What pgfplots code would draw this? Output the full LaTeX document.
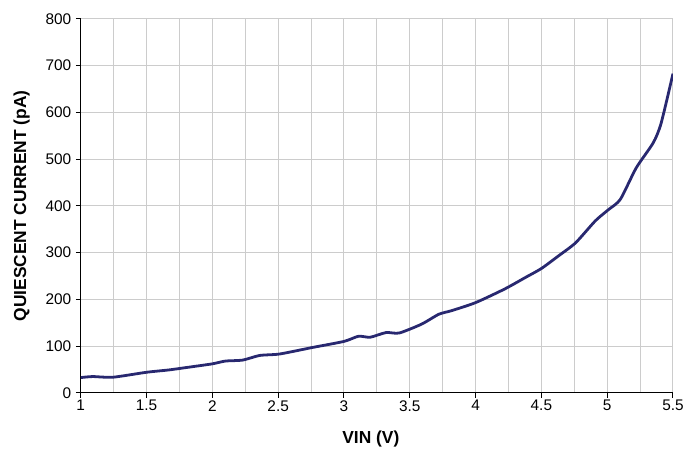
\documentclass[border=0pt]{standalone}
\usepackage{pgfplots}
\pgfplotsset{compat=1.18}
\usepackage{fontspec}
\setmainfont{Liberation Sans}
\definecolor{curve}{RGB}{40,40,112}
\definecolor{gridc}{RGB}{204,204,204}
\begin{document}
\begin{tikzpicture}
\begin{axis}[
  scale only axis,
  width=594bp, height=375bp,
  xmin=1, xmax=5.5, ymin=0, ymax=800,
  xtick={1,1.5,...,5.5},
  xticklabels={1,1.5,2,2.5,3,3.5,4,4.5,5,5.5},
  minor xtick={1.25,1.75,...,5.25},
  ytick={0,100,...,800},
  grid=both,
  major grid style={gridc, line width=1bp},
  minor grid style={gridc, line width=1bp},
  axis lines*=left,
  axis line style={black, line width=1bp, -},
  tick align=outside,
  major tick length=5bp,
  minor tick length=0pt,
  tick style={black, line width=1bp},
  /pgf/number format/assume math mode=true,
  ticklabel style={font=\fontsize{15.5}{17}\selectfont},
  xticklabel style={yshift=1bp},
  yticklabel style={xshift=-1bp},
  xlabel={\textbf{VIN (V)}},
  ylabel={\textbf{QUIESCENT CURRENT (pA)}},
  label style={font=\fontsize{17.5}{20}\selectfont},
  xlabel style={xshift=-6bp},
  xlabel shift=13bp,
  ylabel shift=9bp,
]
\addplot[curve, line width=2.8bp, smooth, tension=0.4] coordinates {
(1.00,32.6) (1.09,34.8) (1.245,33.4) (1.50,44) (1.67,49) (1.85,56) (2.00,62)
(2.10,68) (2.23,70) (2.36,80) (2.51,83) (2.76,97) (3.00,110) (3.11,121)
(3.20,119) (3.32,129) (3.42,128) (3.59,147) (3.72,168) (3.82,176) (4.00,193)
(4.22,222) (4.38,247) (4.50,266) (4.63,293) (4.76,321) (4.91,368) (5.01,392)
(5.10,414) (5.22,481) (5.35,535) (5.41,577) (5.50,683)
};
\end{axis}
\path (-81bp,-57bp) rectangle (606bp,394bp);
\end{tikzpicture}
\end{document}
